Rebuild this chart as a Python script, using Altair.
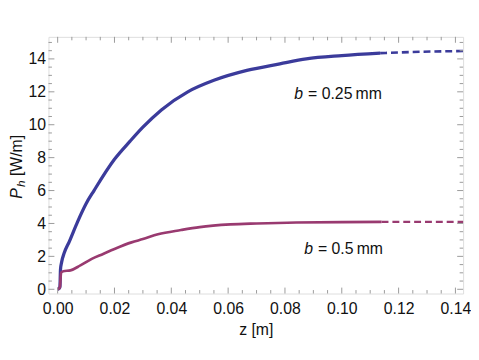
import altair as alt
import pandas as pd

# ---- data ----
blue_z = [0.0, 0.0005, 0.0008, 0.0010, 0.0014, 0.0023, 0.0041, 0.0070, 0.0100, 0.0128,
          0.0200, 0.0255, 0.0300, 0.0365, 0.0458, 0.0550, 0.0666, 0.0782, 0.0875, 0.1000, 0.1135]
blue_p = [0.0, 0.05, 0.15, 1.2, 1.65, 2.2, 2.9, 4.1, 5.2, 6.0,
          7.9, 9.0, 9.85, 10.9, 12.0, 12.7, 13.3, 13.7, 14.0, 14.2, 14.35]
blue_dz = [0.1135, 0.125, 0.1427]
blue_dp = [14.35, 14.42, 14.48]

purple_z = [0.0, 0.0005, 0.0008, 0.0012, 0.0020, 0.0045, 0.0080, 0.0120, 0.0160, 0.0200,
            0.0260, 0.0300, 0.0353, 0.0434, 0.0500, 0.0608, 0.0700, 0.0840, 0.1000, 0.1140]
purple_p = [0.0, 0.05, 0.15, 1.0, 1.1, 1.15, 1.45, 1.85, 2.15, 2.45,
            2.85, 3.05, 3.34, 3.6, 3.78, 3.94, 4.0, 4.06, 4.08, 4.1]
purple_dz = [0.1140, 0.1427]
purple_dp = [4.1, 4.1]

x_major = [0.0, 0.02, 0.04, 0.06, 0.08, 0.10, 0.12, 0.14]
x_minor = [round(i * 0.005, 3) for i in range(29) if i % 4 != 0]
y_major = [0, 2, 4, 6, 8, 10, 12, 14]
y_minor = [i * 0.5 for i in range(31) if i % 4 != 0]

W, H = 420, 260
XDOM = [-0.00323, 0.1427]
YDOM = [-0.258, 15.34]
BLUE = "#3b3b9b"
PURPLE = "#993a70"
TICK = "#9a9a9a"
FONT = "Liberation Sans"
FS = 16

xs = alt.Scale(domain=XDOM, nice=False, zero=False)
ys = alt.Scale(domain=YDOM, nice=False, zero=False)

blue = pd.DataFrame({"z": blue_z, "p": blue_p})
blue_d = pd.DataFrame({"z": blue_dz, "p": blue_dp})
purple = pd.DataFrame({"z": purple_z, "p": purple_p})
purple_d = pd.DataFrame({"z": purple_dz, "p": purple_dp})

X_axis = alt.Axis(values=x_major, format=".2f", ticks=False, domain=False, grid=False,
                  labelFontSize=FS, labelPadding=7, labelColor="#111", labelFont=FONT,
                  labelOverlap=False, labelBound=False, labelFlush=False,
                  title="z [m]", titleFontSize=FS, titleFontWeight="normal", titleFont=FONT,
                  titleColor="#111", titlePadding=6)
Y_axis = alt.Axis(values=y_major, format="d", ticks=False, domain=False, grid=False,
                  labelFontSize=FS, labelPadding=3, labelColor="#111", labelFont=FONT,
                  labelOverlap=False, labelBound=False, labelFlush=False, title=None)


def X(f):
    return alt.X(f, scale=xs, axis=X_axis, title="z [m]")


def Y(f):
    return alt.Y(f, scale=ys, axis=Y_axis, title=None)


l_blue = alt.Chart(blue).mark_line(color=BLUE, strokeWidth=3.3, interpolate="monotone").encode(
    x=X("z:Q"), y=Y("p:Q"))
l_blue_d = alt.Chart(blue_d).mark_line(color=BLUE, strokeWidth=2.6, strokeDash=[7, 4],
                                        interpolate="monotone").encode(x=X("z:Q"), y=Y("p:Q"))
l_purple = alt.Chart(purple).mark_line(color=PURPLE, strokeWidth=2.7, interpolate="monotone").encode(
    x=X("z:Q"), y=Y("p:Q"))
l_purple_d = alt.Chart(purple_d).mark_line(color=PURPLE, strokeWidth=2.4, strokeDash=[7, 4]).encode(
    x=X("z:Q"), y=Y("p:Q"))


def xticks(vals, length):
    df = pd.DataFrame({"z": vals})
    bot = alt.Chart(df).mark_rule(color=TICK, strokeWidth=1).encode(
        x=X("z:Q"), y=alt.value(H), y2=alt.value(H - length))
    top = alt.Chart(df).mark_rule(color=TICK, strokeWidth=1).encode(
        x=X("z:Q"), y=alt.value(0), y2=alt.value(length))
    return [bot, top]


def yticks(vals, length):
    df = pd.DataFrame({"p": vals})
    left = alt.Chart(df).mark_rule(color=TICK, strokeWidth=1).encode(
        y=Y("p:Q"), x=alt.value(0), x2=alt.value(length))
    right = alt.Chart(df).mark_rule(color=TICK, strokeWidth=1).encode(
        y=Y("p:Q"), x=alt.value(W), x2=alt.value(W - length))
    return [left, right]


ticks = xticks(x_major, 6) + xticks(x_minor, 3.5) + yticks(y_major, 6) + yticks(y_minor, 3.5)


def txt(s, x, y, size=FS, style="normal", angle=0, align="left"):
    return alt.Chart(pd.DataFrame({"s": [s]})).mark_text(
        font=FONT, fontSize=size, fontStyle=style, color="#111", angle=angle,
        align=align, baseline="alphabetic").encode(
        text="s:N", x=alt.value(x), y=alt.value(y))


OX, OY = 49, 35
labels = [
    # y title, rotated
    txt("P", 22.5 - OX, 199 - OY, style="italic", angle=270),
    txt("h", 25.5 - OX, 187 - OY, size=12, style="italic", angle=270),
    txt("[W/m]", 22.5 - OX, 176 - OY, size=16, angle=270),
    # annotations
    txt("b", 298 - OX, 98 - OY, style="italic"),
    txt("= 0.25\u2009mm", 312 - OX, 98 - OY),
    txt("b", 308 - OX, 255 - OY, style="italic"),
    txt("= 0.5\u2009mm", 322 - OX, 255 - OY),
]

chart = alt.layer(l_blue, l_blue_d, l_purple, l_purple_d, *ticks, *labels).properties(
    width=W, height=H,
    autosize=alt.AutoSizeParams(type="none"),
    padding={"left": 41, "top": 27, "right": 8, "bottom": 57},
).configure_view(stroke="#a0a0a0", strokeWidth=1).configure_axis(
    labelOverlap=False, labelBound=False
).configure(background="white")

chart.save("out.html", embed_options={"renderer": "svg", "actions": False})
